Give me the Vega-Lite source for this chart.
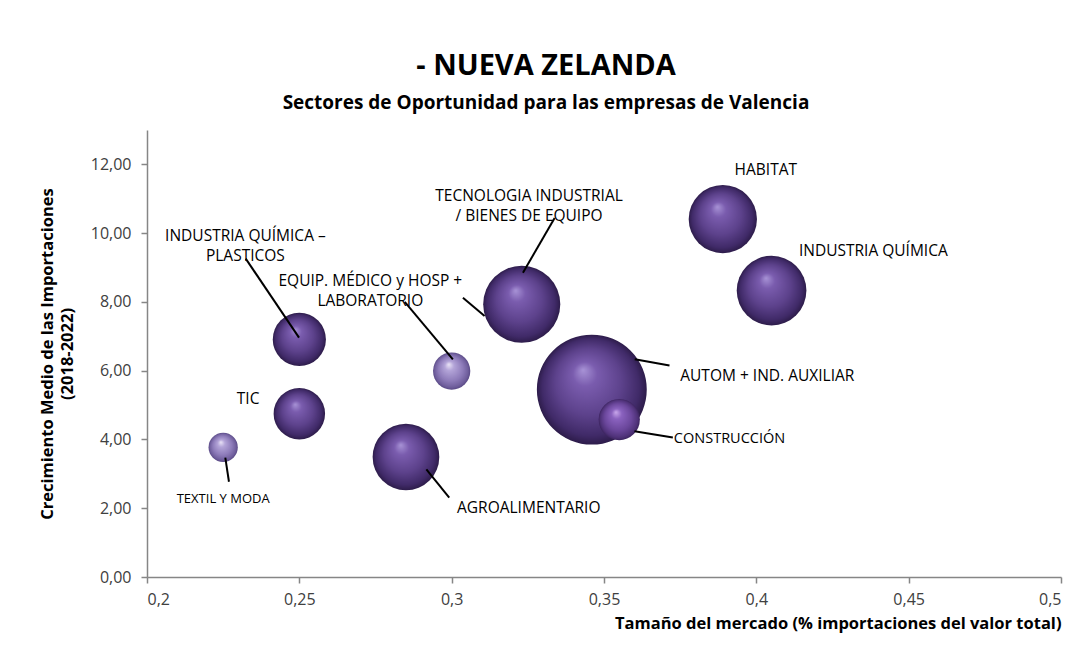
{
  "$schema": "https://vega.github.io/schema/vega-lite/v6.json",
  "width": 914,
  "height": 447,
  "autosize": {"type": "none"},
  "padding": {"left": 147, "top": 130, "right": 23, "bottom": 74},
  "background": "white",
  "title": {
    "text": "- NUEVA ZELANDA",
    "subtitle": "Sectores de Oportunidad para las empresas de Valencia",
    "anchor": "middle",
    "frame": "group",
    "dx": -58,
    "offset": 17,
    "font": "Open Sans",
    "fontSize": 29,
    "fontWeight": "bold",
    "color": "#000000",
    "subtitleFont": "Open Sans",
    "subtitleFontSize": 19,
    "subtitleFontWeight": "bold",
    "subtitleColor": "#000000",
    "subtitlePadding": 13
  },
  "datasets": {
    "sectores": [
      {"sector": "AUTOM + IND. AUXILIAR", "cuota": 0.346, "crecimiento": 5.45, "importaciones": 100},
      {"sector": "TECNOLOGIA INDUSTRIAL / BIENES DE EQUIPO", "cuota": 0.323, "crecimiento": 7.93, "importaciones": 49.2},
      {"sector": "INDUSTRIA QUÍMICA", "cuota": 0.405, "crecimiento": 8.33, "importaciones": 40.2},
      {"sector": "HABITAT", "cuota": 0.389, "crecimiento": 10.41, "importaciones": 38.6},
      {"sector": "AGROALIMENTARIO", "cuota": 0.285, "crecimiento": 3.49, "importaciones": 36.8},
      {"sector": "INDUSTRIA QUÍMICA – PLASTICOS", "cuota": 0.25, "crecimiento": 6.91, "importaciones": 23.4},
      {"sector": "TIC", "cuota": 0.25, "crecimiento": 4.75, "importaciones": 21.9},
      {"sector": "CONSTRUCCIÓN", "cuota": 0.355, "crecimiento": 4.58, "importaciones": 14.1},
      {"sector": "EQUIP. MÉDICO y HOSP + LABORATORIO", "cuota": 0.3, "crecimiento": 5.99, "importaciones": 11.5},
      {"sector": "TEXTIL Y MODA", "cuota": 0.225, "crecimiento": 3.77, "importaciones": 7.1}
    ],
    "etiquetas": [
      {"texto": "INDUSTRIA QUÍMICA –\nPLASTICOS", "lx": 0.2323, "ly": 9.93, "grupo": "normal"},
      {"texto": "EQUIP. MÉDICO y HOSP +\nLABORATORIO", "lx": 0.2733, "ly": 8.6, "grupo": "normal"},
      {"texto": "TECNOLOGIA INDUSTRIAL\n/ BIENES DE EQUIPO", "lx": 0.3254, "ly": 11.08, "grupo": "normal"},
      {"texto": "HABITAT", "lx": 0.4031, "ly": 11.84, "grupo": "normal"},
      {"texto": "INDUSTRIA QUÍMICA", "lx": 0.4384, "ly": 9.47, "grupo": "normal"},
      {"texto": "AUTOM + IND. AUXILIAR", "lx": 0.4036, "ly": 5.84, "grupo": "normal"},
      {"texto": "AGROALIMENTARIO", "lx": 0.3253, "ly": 2.01, "grupo": "normal"},
      {"texto": "TIC", "lx": 0.2332, "ly": 5.19, "grupo": "normal"},
      {"texto": "CONSTRUCCIÓN", "lx": 0.3912, "ly": 4.0, "grupo": "estrecho"},
      {"texto": "TEXTIL Y MODA", "lx": 0.225, "ly": 2.27, "grupo": "pequeno"}
    ],
    "lineas": [
      {"x1": 0.2324, "y1": 9.26, "x2": 0.2499, "y2": 6.96},
      {"x1": 0.2846, "y1": 8.0, "x2": 0.3004, "y2": 6.33},
      {"x1": 0.3338, "y1": 10.44, "x2": 0.3234, "y2": 8.85},
      {"x1": 0.3037, "y1": 8.12, "x2": 0.3108, "y2": 7.59},
      {"x1": 0.3601, "y1": 6.33, "x2": 0.3715, "y2": 6.15},
      {"x1": 0.36, "y1": 4.24, "x2": 0.3726, "y2": 4.06},
      {"x1": 0.2917, "y1": 3.13, "x2": 0.2992, "y2": 2.31},
      {"x1": 0.2257, "y1": 3.47, "x2": 0.2269, "y2": 2.77}
    ]
  },
  "layer": [
    {
      "data": {"name": "sectores"},
      "transform": [{"filter": {"field": "sector", "oneOf": ["AUTOM + IND. AUXILIAR", "TECNOLOGIA INDUSTRIAL / BIENES DE EQUIPO", "INDUSTRIA QUÍMICA", "HABITAT", "AGROALIMENTARIO", "INDUSTRIA QUÍMICA – PLASTICOS", "TIC"]}}],
      "mark": {
        "type": "circle",
        "opacity": 1,
        "fill": {"gradient": "radial", "x1": 0.42, "y1": 0.32, "r1": 0, "x2": 0.5, "y2": 0.5, "r2": 0.5,
          "stops": [
            {"offset": 0, "color": "#a893d6"},
            {"offset": 0.22, "color": "#7a5cae"},
            {"offset": 0.6, "color": "#5d428c"},
            {"offset": 0.88, "color": "#402a68"},
            {"offset": 1, "color": "#2d1c4a"}
          ]}
      },
      "encoding": {
        "x": {
          "field": "cuota", "type": "quantitative",
          "scale": {"domain": [0.2, 0.5], "nice": false, "zero": false},
          "axis": {
            "values": [0.2, 0.25, 0.3, 0.35, 0.4, 0.45, 0.5],
            "format": ".2~f",
            "title": "Tamaño del mercado (% importaciones del valor total)",
            "titleAnchor": "end",
            "titleFontSize": 16.5,
            "titlePadding": 8,
            "labelPadding": 8
          }
        },
        "y": {
          "field": "crecimiento", "type": "quantitative",
          "scale": {"domain": [0, 13], "nice": false},
          "axis": {
            "values": [0, 2, 4, 6, 8, 10, 12],
            "format": ".2f",
            "title": ["Crecimiento Medio de las Importaciones", "(2018-2022)"],
            "titleFontSize": 16.5,
            "titleLineHeight": 20,
            "titlePadding": 15,
            "labelPadding": 10
          }
        },
        "size": {"field": "importaciones", "type": "quantitative", "scale": {"domain": [0, 100], "range": [0, 12076]}, "legend": null}
      }
    },
    {
      "data": {"name": "sectores"},
      "transform": [{"filter": {"field": "sector", "oneOf": ["EQUIP. MÉDICO y HOSP + LABORATORIO", "TEXTIL Y MODA"]}}],
      "mark": {
        "type": "circle",
        "opacity": 1,
        "fill": {"gradient": "radial", "x1": 0.42, "y1": 0.32, "r1": 0, "x2": 0.5, "y2": 0.5, "r2": 0.5,
          "stops": [
            {"offset": 0, "color": "#ebe5f7"},
            {"offset": 0.25, "color": "#b3a4d8"},
            {"offset": 0.65, "color": "#8e7cba"},
            {"offset": 0.9, "color": "#6f5e9c"},
            {"offset": 1, "color": "#5a4a86"}
          ]}
      },
      "encoding": {
        "x": {"field": "cuota", "type": "quantitative"},
        "y": {"field": "crecimiento", "type": "quantitative"},
        "size": {"field": "importaciones", "type": "quantitative", "legend": null}
      }
    },
    {
      "data": {"name": "sectores"},
      "transform": [{"filter": {"field": "sector", "equal": "CONSTRUCCIÓN"}}],
      "mark": {
        "type": "circle",
        "opacity": 1,
        "fill": {"gradient": "radial", "x1": 0.42, "y1": 0.32, "r1": 0, "x2": 0.5, "y2": 0.5, "r2": 0.5,
          "stops": [
            {"offset": 0, "color": "#caa9ec"},
            {"offset": 0.25, "color": "#8a62bf"},
            {"offset": 0.65, "color": "#6b479c"},
            {"offset": 0.9, "color": "#4f3279"},
            {"offset": 1, "color": "#3c245f"}
          ]}
      },
      "encoding": {
        "x": {"field": "cuota", "type": "quantitative"},
        "y": {"field": "crecimiento", "type": "quantitative"},
        "size": {"field": "importaciones", "type": "quantitative", "legend": null}
      }
    },
    {
      "data": {"name": "lineas"},
      "mark": {"type": "rule", "color": "#000000", "strokeWidth": 2},
      "encoding": {
        "x": {"field": "x1", "type": "quantitative"},
        "y": {"field": "y1", "type": "quantitative"},
        "x2": {"field": "x2"},
        "y2": {"field": "y2"}
      }
    },
    {
      "data": {"name": "etiquetas"},
      "transform": [{"filter": {"field": "grupo", "equal": "normal"}}],
      "mark": {"type": "text", "font": "Open Sans", "fontSize": 15.5, "color": "#000000", "align": "center", "baseline": "middle", "lineBreak": "\n", "lineHeight": 20},
      "encoding": {
        "x": {"field": "lx", "type": "quantitative"},
        "y": {"field": "ly", "type": "quantitative"},
        "text": {"field": "texto"}
      }
    },
    {
      "data": {"name": "etiquetas"},
      "transform": [{"filter": {"field": "grupo", "equal": "estrecho"}}],
      "mark": {"type": "text", "font": "Open Sans", "fontSize": 14.5, "color": "#000000", "align": "center", "baseline": "middle"},
      "encoding": {
        "x": {"field": "lx", "type": "quantitative"},
        "y": {"field": "ly", "type": "quantitative"},
        "text": {"field": "texto"}
      }
    },
    {
      "data": {"name": "etiquetas"},
      "transform": [{"filter": {"field": "grupo", "equal": "pequeno"}}],
      "mark": {"type": "text", "font": "Open Sans", "fontSize": 13, "color": "#000000", "align": "center", "baseline": "middle"},
      "encoding": {
        "x": {"field": "lx", "type": "quantitative"},
        "y": {"field": "ly", "type": "quantitative"},
        "text": {"field": "texto"}
      }
    }
  ],
  "config": {
    "locale": {"number": {"decimal": ",", "thousands": ".", "grouping": [3], "currency": ["", " €"]}},
    "view": {"stroke": null},
    "font": "Open Sans",
    "axis": {
      "grid": false,
      "domainColor": "#868686",
      "domainWidth": 1.5,
      "tickColor": "#868686",
      "tickWidth": 1.5,
      "tickSize": 6,
      "labelFont": "Open Sans",
      "labelFontSize": 16,
      "labelColor": "#404040",
      "titleFont": "Open Sans",
      "titleFontWeight": "bold",
      "titleColor": "#000000"
    }
  }
}
